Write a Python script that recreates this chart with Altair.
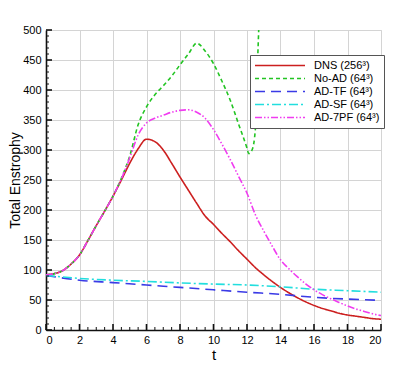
import altair as alt
import pandas as pd

# ---- data ----
t_common = [0, 0.5, 1, 1.5, 2, 2.5, 3, 3.5, 4, 4.5, 5, 5.5, 6, 6.5, 7, 7.5, 8, 8.5, 9, 9.5,
            10, 10.5, 11, 11.5, 12, 12.5, 13, 13.5, 14, 14.5, 15, 15.5, 16, 16.5, 17, 17.5,
            18, 18.5, 19, 19.5, 20]
dns = [92, 94, 99, 110, 125, 149, 174, 198, 223, 250, 278, 302, 318, 314, 300, 278, 255, 233,
       211, 190, 176, 161, 147, 132, 118, 104, 92, 81, 71, 62, 54, 47, 41, 36, 32, 28, 25, 23,
       21, 19, 18]
ad7pf = [92, 94, 99, 110, 125, 149, 174, 198, 223, 252, 287, 325, 345, 353, 358, 363, 366, 367,
         363, 353, 334, 310, 284, 256, 228, 192, 165, 140, 117, 102, 89, 77, 67, 59, 52, 46,
         40, 35, 31, 27, 24]
t_noad = [0, 0.5, 1, 1.5, 2, 2.5, 3, 3.5, 4, 4.5, 5, 5.5, 6, 6.5, 7, 7.5, 8, 8.5, 9, 9.5, 10,
          10.5, 11, 11.5, 12, 12.1, 12.3, 12.5, 12.6, 12.7, 12.8]
noad = [92, 94, 99, 110, 125, 149, 174, 198, 223, 253, 290, 342, 372, 392, 407, 423, 442, 460,
        478, 465, 444, 415, 383, 343, 303, 294, 300, 335, 420, 500, 560]
t_filter = [0, 2, 4, 6, 8, 10, 12, 14, 16, 18, 20]
adtf = [91, 83, 79, 75, 71, 67, 63, 59.5, 54.5, 51.5, 49.5]
adsf = [91, 86, 83, 81, 78.5, 76.5, 75, 72, 68, 65.5, 63]

series_names = ["DNS (256³)", "No-AD (64³)", "AD-TF (64³)", "AD-SF (64³)", "AD-7PF (64³)"]
series_colors = ["#cc1f1f", "#22c422", "#3a3ae6", "#22dede", "#f03cf0"]
series_dashes = [[1, 0], [4, 3], [10, 6], [9, 3, 2, 3], [7, 2, 1.5, 2, 1.5, 2]]

x_major = [0, 2, 4, 6, 8, 10, 12, 14, 16, 18, 20]
x_minor = [v / 2 for v in range(0, 41) if v % 4 != 0]
y_major = [0, 50, 100, 150, 200, 250, 300, 350, 400, 450, 500]
y_minor = [v for v in range(0, 501, 10) if v % 50 != 0]

# ---- build table ----
rows = []
for name, ts, vs in [
    (series_names[0], t_common, dns),
    (series_names[1], t_noad, noad),
    (series_names[2], t_filter, adtf),
    (series_names[3], t_filter, adsf),
    (series_names[4], t_common, ad7pf),
]:
    for i, (t, v) in enumerate(zip(ts, vs)):
        rows.append({"series": name, "t": t, "E": v, "order": i})
df = pd.DataFrame(rows)

W, H = 335, 300
FONT = "Liberation Sans"

xscale = alt.Scale(domain=[0, 20], nice=False, zero=False)
yscale = alt.Scale(domain=[0, 500], nice=False)

x_axis = alt.Axis(values=x_major, format="d", grid=True, gridColor="#d4d4d4",
                  gridWidth=1, ticks=False, tickSize=0, labelPadding=4,
                  domainColor="#111", domainWidth=1.6, labelFontSize=11,
                  labelFont=FONT, labelColor="#000", titleFont=FONT,
                  titleFontSize=15, titleFontWeight="normal", titleColor="#000",
                  titlePadding=2)
y_axis = alt.Axis(values=y_major, format="d", grid=True, gridColor="#d4d4d4",
                  gridWidth=1, ticks=False, tickSize=0, labelPadding=5,
                  domainColor="#111", domainWidth=1.6, labelFontSize=11,
                  labelFont=FONT, labelColor="#000", titleFont=FONT,
                  titleFontSize=14, titleFontWeight="normal", titleColor="#000",
                  titleX=-24)


def X():
    return alt.X("t:Q", scale=xscale, title="t", axis=x_axis)


def Y():
    return alt.Y("E:Q", scale=yscale, title="Total Enstrophy", axis=y_axis)


legend = alt.Legend(title=None, orient="none", legendX=204, legendY=25,
                    symbolType="stroke", symbolSize=2500, symbolStrokeWidth=1.6,
                    clipHeight=13, rowPadding=0, labelOffset=8, padding=4,
                    labelFont=FONT, labelFontSize=11, labelColor="#000",
                    fillColor="white", strokeColor="#555", labelLimit=200)

lines = alt.Chart(df).mark_line(strokeWidth=1.6, clip=True, interpolate="monotone").encode(
    x=X(),
    y=Y(),
    color=alt.Color("series:N", scale=alt.Scale(domain=series_names, range=series_colors),
                    legend=legend),
    strokeDash=alt.StrokeDash("series:N",
                              scale=alt.Scale(domain=series_names, range=series_dashes),
                              legend=legend),
    order="order:Q",
)

xmaj_df = pd.DataFrame({"t": x_major})
xmin_df = pd.DataFrame({"t": x_minor})
ymaj_df = pd.DataFrame({"E": y_major})
ymin_df = pd.DataFrame({"E": y_minor})

tick_col = "#111"
xt_major = alt.Chart(xmaj_df).mark_rule(color=tick_col, strokeWidth=1.6).encode(
    x=X(), y=alt.value(H), y2=alt.value(H - 6))
xt_minor = alt.Chart(xmin_df).mark_rule(color=tick_col, strokeWidth=1).encode(
    x=X(), y=alt.value(H), y2=alt.value(H - 3))
yt_major = alt.Chart(ymaj_df).mark_rule(color=tick_col, strokeWidth=1.6).encode(
    y=Y(), x=alt.value(0), x2=alt.value(6))
yt_minor = alt.Chart(ymin_df).mark_rule(color=tick_col, strokeWidth=1).encode(
    y=Y(), x=alt.value(0), x2=alt.value(3))

chart = alt.layer(lines, xt_major, xt_minor, yt_major, yt_minor).properties(
    width=W, height=H,
    autosize=alt.AutoSizeParams(type="none"),
    padding={"left": 38, "top": 22, "right": 26, "bottom": 31},
).configure_view(stroke=None).configure(background="white")

chart.save("out.html", embed_options={"renderer": "svg", "actions": False})
